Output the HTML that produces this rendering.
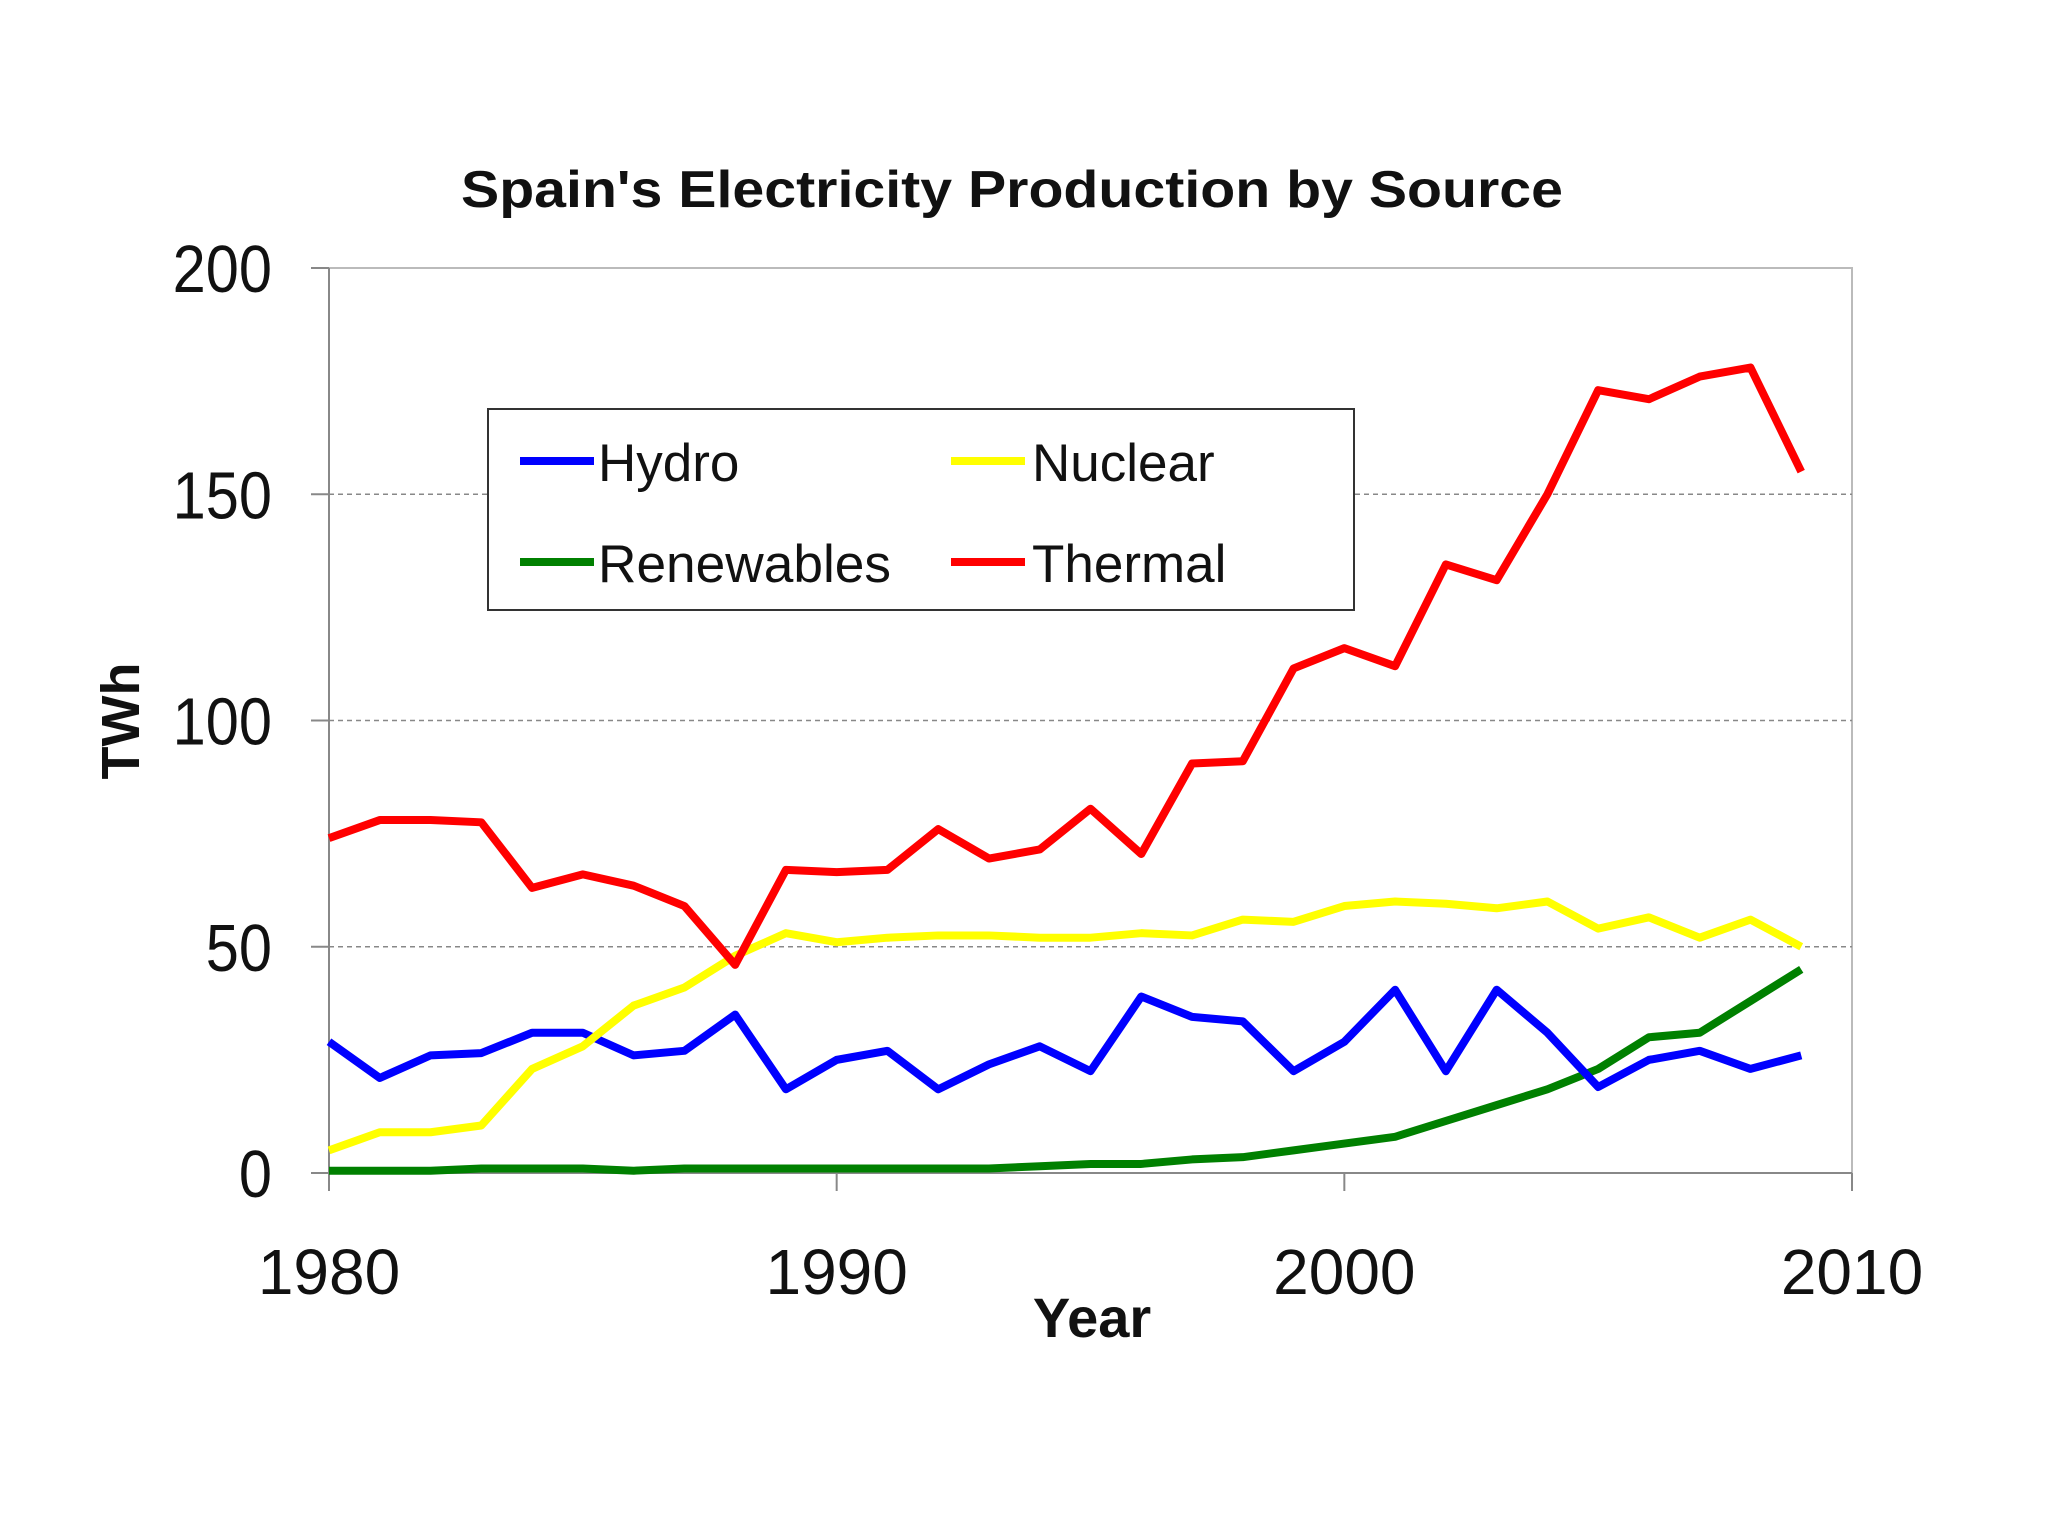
<!DOCTYPE html>
<html><head><meta charset="utf-8"><style>
body{margin:0;background:#fff;}
svg text{font-family:"Liberation Sans",Arial,sans-serif;}
</style></head><body>
<svg id="chart" width="2048" height="1535" viewBox="0 0 2048 1535" xmlns="http://www.w3.org/2000/svg">
<rect width="2048" height="1535" fill="#fff"/>
<text x="1012" y="207" font-size="52" font-weight="bold" text-anchor="middle" fill="#111" textLength="1102" lengthAdjust="spacingAndGlyphs">Spain's Electricity Production by Source</text>
<g id="grid"></g>
<g id="axes"></g>
<g id="series"></g>
<text x="1092" y="1337" font-size="56" font-weight="bold" text-anchor="middle" fill="#111">Year</text>
<text x="0" y="0" font-size="54" font-weight="bold" text-anchor="middle" fill="#111" transform="translate(139,721) rotate(-90)">TWh</text>
<g>
<rect x="488" y="409" width="866" height="201" fill="#fff" stroke="#333" stroke-width="2"/>
<line x1="520" y1="461" x2="594" y2="461" stroke="#0000ff" stroke-width="8"/>
<text x="598" y="481" font-size="53" fill="#111">Hydro</text>
<line x1="951" y1="461" x2="1025" y2="461" stroke="#ffff00" stroke-width="8"/>
<text x="1032" y="481" font-size="53" fill="#111">Nuclear</text>
<line x1="520" y1="562" x2="594" y2="562" stroke="#008000" stroke-width="8"/>
<text x="598" y="582" font-size="53" fill="#111" textLength="293" lengthAdjust="spacingAndGlyphs">Renewables</text>
<line x1="951" y1="562" x2="1025" y2="562" stroke="#ff0000" stroke-width="8"/>
<text x="1032" y="582" font-size="53" fill="#111">Thermal</text>
</g>
</svg>
<script>
const years = [1980,1981,1982,1983,1984,1985,1986,1987,1988,1989,1990,1991,1992,1993,1994,1995,1996,1997,1998,1999,2000,2001,2002,2003,2004,2005,2006,2007,2008,2009];
const thermal = [74,78,78,77.5,63,66,63.5,59,46,67,66.5,67,76,69.5,71.5,80.5,70.5,90.5,91,111.5,116,112,134.5,131,150,173,171,176,178,155];
const nuclear = [5,9,9,10.5,23,28,37,41,48,53,51,52,52.5,52.5,52,52,53,52.5,56,55.5,59,60,59.5,58.5,60,54,56.5,52,56,50];
const hydro = [29,21,26,26.5,31,31,26,27,35,18.5,25,27,18.5,24,28,22.5,39,34.5,33.5,22.5,29,40.5,22.5,40.5,31,19,25,27,23,26];
const renewables = [0.5,0.5,0.5,1,1,1,0.5,1,1,1,1,1,1,1,1.5,2,2,3,3.5,5,6.5,8,11.5,15,18.5,23,30,31,38,45];
const yTicks = [0,50,100,150,200];
const xTicks = [1980,1990,2000,2010];

const NS="http://www.w3.org/2000/svg";
const X0=329,X1=1852,Y0=1173,Y1=268;
const xs=v=>X0+(v-1980)/30*(X1-X0);
const ys=v=>Y0-v/200*(Y0-Y1);
function mk(tag,attrs,parent){const e=document.createElementNS(NS,tag);for(const k in attrs)e.setAttribute(k,attrs[k]);parent.appendChild(e);return e;}
const grid=document.getElementById('grid'),axes=document.getElementById('axes'),series=document.getElementById('series');
mk('rect',{x:X0,y:Y1,width:X1-X0,height:Y0-Y1,fill:'#fff',stroke:'#bbb','stroke-width':2},grid);
yTicks.forEach(t=>{
  const y=ys(t);
  if(t>0&&t<200){const g=mk('line',{x1:X0,y1:y,x2:X1,y2:y,stroke:'#888','stroke-width':1.5,'stroke-dasharray':'5,4'},grid);
  
  }
  mk('line',{x1:311,y1:y,x2:X0,y2:y,stroke:'#888','stroke-width':2},axes);
  const tx=mk('text',{x:272,y:y+23,'font-size':64,'text-anchor':'end',fill:'#111',transform:'translate(272,'+y+') scale(0.93,1.05) translate(-272,'+(-y)+')'},axes);
  tx.textContent=t;
  
  
});
xTicks.forEach(t=>{
  const x=xs(t);
  mk('line',{x1:x,y1:Y0,x2:x,y2:Y0+18,stroke:'#888','stroke-width':2},axes);
  const tx=mk('text',{x:x,y:1294,'font-size':64,'text-anchor':'middle',fill:'#111'},axes);
  tx.textContent=t;
  
  
});
mk('line',{x1:X0,y1:Y1,x2:X0,y2:Y0,stroke:'#888','stroke-width':2},axes);
mk('line',{x1:X0,y1:Y0,x2:X1,y2:Y0,stroke:'#888','stroke-width':2},axes);
[['renewables-line',renewables,'#008000'],['hydro-line',hydro,'#0000ff'],['nuclear-line',nuclear,'#ffff00'],['thermal-line',thermal,'#ff0000']].forEach(([n,d,c])=>{
  const p=mk('polyline',{points:d.map((v,i)=>xs(years[i])+','+ys(v)).join(' '),fill:'none',stroke:c,'stroke-width':8,'stroke-linejoin':'round'},series);
  
  
});
</script>
</body></html>
